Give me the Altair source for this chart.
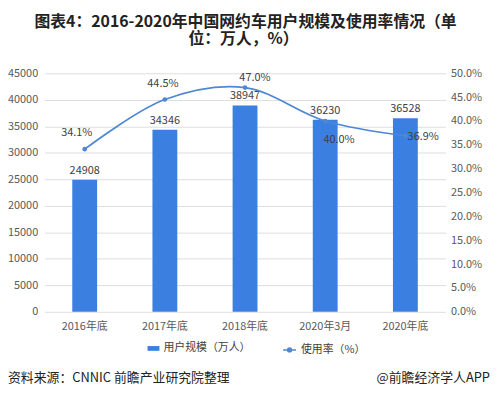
import altair as alt
import pandas as pd

categories = ["2016年底", "2017年底", "2018年底", "2020年3月", "2020年底"]
users = [24908, 34346, 38947, 36230, 36528]
rates = [34.1, 44.5, 47.0, 40.0, 36.9]

BAR_NAME = "用户规模（万人）"
LINE_NAME = "使用率（%）"
TITLE_1 = "图表4：2016-2020年中国网约车用户规模及使用率情况（单"
TITLE_2 = "位：万人，%）"
SOURCE = "资料来源：CNNIC 前瞻产业研究院整理"
BRAND = "@前瞻经济学人APP"

FONT = "Noto Sans CJK SC"
BAR_C = "#3b7fe0"
LINE_C = "#4f87d3"
TXT = "#404040"
AX = "#595959"

df = pd.DataFrame({"cat": categories, "users": users, "rate": [r / 100 for r in rates]})

x = alt.X("cat:N", sort=categories, title=None,
          scale=alt.Scale(paddingInner=0.69, paddingOuter=0.345),
          axis=alt.Axis(labelAngle=0, domain=False, ticks=False, labelPadding=9,
                        labelFontSize=11, labelColor=AX, labelFont=FONT))
y_left = alt.Y("users:Q", title=None, scale=alt.Scale(domain=[0, 45000], nice=False),
               axis=alt.Axis(values=list(range(0, 45001, 5000)), domain=False, ticks=False,
                             labelPadding=7, labelFontSize=11, labelColor=AX, labelFont=FONT,
                             gridColor="#dedede", format="d"))
y_right = alt.Y("rate:Q", title=None, scale=alt.Scale(domain=[0, 0.5], nice=False),
                axis=alt.Axis(orient="right", values=[i / 100 for i in range(0, 51, 5)],
                              format=".1%", domain=False, ticks=False, grid=False,
                              labelPadding=5, labelFontSize=11, labelColor=AX, labelFont=FONT))

base = alt.Chart(df)

bars = base.mark_bar().transform_calculate(s=f"'{BAR_NAME}'").encode(
    x=x, y=y_left,
    color=alt.Color("s:N", scale=alt.Scale(domain=[BAR_NAME], range=[BAR_C]),
                    legend=alt.Legend(title=None, orient="none", legendX=104, legendY=272,
                                      symbolType="M-1,-0.4H1V0.4H-1Z", symbolSize=144,
                                      symbolStrokeWidth=0, labelFontSize=11, labelFont=FONT,
                                      labelColor=TXT)))
bar_labels = base.mark_text(baseline="bottom", dy=-4, fontSize=11, font=FONT, color=TXT).encode(
    x=x, y=y_left, text=alt.Text("users:Q", format="d"))

line = base.mark_line(interpolate="catmull-rom", strokeWidth=1.8).transform_calculate(
    s=f"'{LINE_NAME}'").encode(
    x=x, y=y_right,
    stroke=alt.Stroke("s:N", scale=alt.Scale(domain=[LINE_NAME], range=[LINE_C]),
                      legend=alt.Legend(title=None, orient="none", legendX=240, legendY=272,
                                        symbolType="M-1,0H1M0.3,0A0.3,0.3,0,1,1,-0.3,0A0.3,0.3,0,1,1,0.3,0",
                                        symbolSize=169, symbolStrokeWidth=1.5,
                                        symbolFillColor=LINE_C, labelFontSize=11,
                                        labelFont=FONT, labelColor=TXT)))
points = base.mark_point(filled=True, size=22, opacity=1, color=LINE_C).encode(x=x, y=y_right)

offsets = {"2016年底": (-8, -16), "2017年底": (-2, -16), "2018年底": (10, -10),
           "2020年3月": (14, 19), "2020年底": (18, 1)}
pct_labels = [
    base.transform_filter(alt.datum.cat == c).mark_text(
        dx=dx, dy=dy, baseline="middle", fontSize=11, font=FONT, color=TXT).encode(
        x=x, y=y_right, text=alt.Text("rate:Q", format=".1%"))
    for c, (dx, dy) in offsets.items()
]

left = alt.layer(bars, bar_labels)
right = alt.layer(line, points, *pct_labels)


def free_text(t, px, py, size, align="center", weight="normal"):
    return alt.Chart(pd.DataFrame({"t": [t]})).mark_text(
        align=align, baseline="middle", fontSize=size, font=FONT, fontWeight=weight,
        color="#222222").encode(text="t:N", x=alt.value(px), y=alt.value(py))


title1 = free_text(TITLE_1, 203, -52, 16, weight="bold")
title2 = free_text(TITLE_2, 201, -35, 16, weight="bold")
src = free_text(SOURCE, -37, 308, 13, align="left")
brand = free_text(BRAND, 450, 308, 13, align="right")

chart = alt.layer(left, right, title1, title2, src, brand).resolve_scale(
    y="independent", color="independent", stroke="independent").properties(
    width=405, height=241,
    autosize=alt.AutoSizeParams(type="none"),
    padding={"left": 37, "top": 64, "right": 45, "bottom": 75},
).configure_view(stroke=None)

chart.save("out.html", embed_options={"renderer": "svg", "actions": False})
